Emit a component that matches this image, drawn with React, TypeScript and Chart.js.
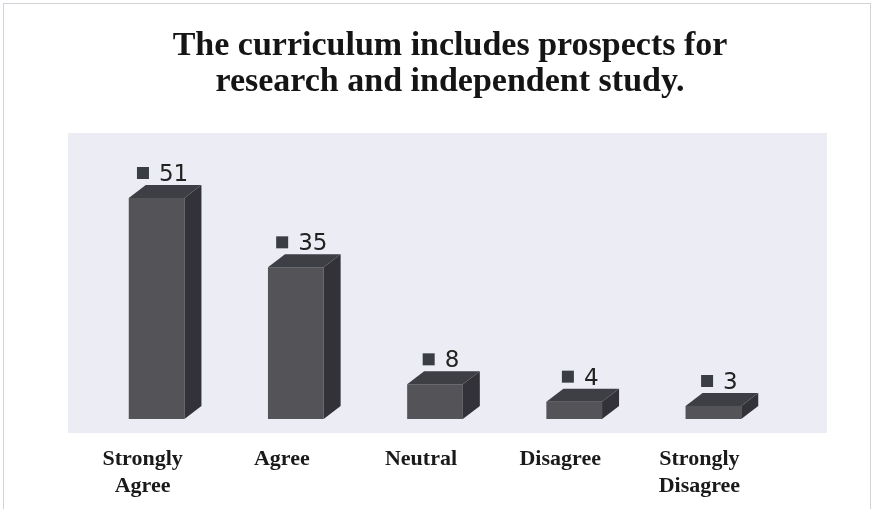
import { useEffect, useRef } from "react";
import { Chart, registerables } from "chart.js";

Chart.register(...registerables);

const TITLE_LINES = ["The curriculum includes prospects for", "research and independent study."];
const CATEGORIES: (string | string[])[] = [["Strongly", "Agree"], "Agree", "Neutral", "Disagree", ["Strongly", "Disagree"]];
const VALUES = [51, 35, 8, 4, 3];
const Y_MAX = 66;

const FRONT = "#535358";
const SIDE = "#323238";
const TOP = "#3e3e45";
const MARKER = "#3b3d45";
const PLOT_BG = "#ececf4";
const DEPTH_X = 17;
const DEPTH_Y = 13;

const box3d = {
  id: "box3d",
  beforeDraw(chart: any) {
    const { ctx, chartArea: a } = chart;
    ctx.save();
    ctx.fillStyle = "#ffffff";
    ctx.fillRect(0, 0, chart.width, chart.height);
    ctx.strokeStyle = "#d2d2d8";
    ctx.lineWidth = 1;
    ctx.strokeRect(3.5, 3.5, chart.width - 7, chart.height + 10);
    ctx.fillStyle = PLOT_BG;
    ctx.fillRect(a.left - 19, a.top, a.right - a.left + 63, a.bottom - a.top + 14);
    // title
    ctx.fillStyle = "#151515";
    ctx.font = 'bold 34px "Liberation Serif"';
    ctx.textAlign = "center";
    ctx.textBaseline = "alphabetic";
    const cx = (a.left + a.right) / 2 + 15;
    TITLE_LINES.forEach((line, i) => {
      ctx.fillText(line, cx, 55 + i * 36);
    });
    ctx.restore();
  },
  afterDatasetsDraw(chart: any) {
    const { ctx } = chart;
    const meta = chart.getDatasetMeta(0);
    ctx.save();
    meta.data.forEach((bar: any, i: number) => {
      const { x, y, base, width } = bar.getProps(["x", "y", "base", "width"], true);
      const l = x - width / 2;
      const r = x + width / 2;
      ctx.fillStyle = SIDE;
      ctx.beginPath();
      ctx.moveTo(r, y);
      ctx.lineTo(r + DEPTH_X, y - DEPTH_Y);
      ctx.lineTo(r + DEPTH_X, base - DEPTH_Y);
      ctx.lineTo(r, base);
      ctx.closePath();
      ctx.fill();
      ctx.fillStyle = TOP;
      ctx.beginPath();
      ctx.moveTo(l, y);
      ctx.lineTo(l + DEPTH_X, y - DEPTH_Y);
      ctx.lineTo(r + DEPTH_X, y - DEPTH_Y);
      ctx.lineTo(r, y);
      ctx.closePath();
      ctx.fill();

      const text = String(VALUES[i]);
      ctx.font = '23px "DejaVu Sans"';
      const tw = ctx.measureText(text).width;
      const total = 12 + 10 + tw;
      const lcx = x + 6;
      const lcy = y - DEPTH_Y - 12;
      const sx = lcx - total / 2;
      ctx.fillStyle = MARKER;
      ctx.fillRect(sx, lcy - 6, 12, 12);
      ctx.fillStyle = "#222222";
      ctx.textAlign = "left";
      ctx.textBaseline = "alphabetic";
      ctx.fillText(text, sx + 22, lcy + 8);
    });
    ctx.restore();
  },
};

export default function App() {
  const ref = useRef<HTMLCanvasElement | null>(null);
  useEffect(() => {
    document.body.style.margin = "0";
    const canvas = ref.current;
    if (!canvas) return;
    const chart = new Chart(canvas, {
      type: "bar",
      data: {
        labels: CATEGORIES,
        datasets: [
          {
            data: VALUES,
            backgroundColor: FRONT,
            borderWidth: 0,
            barPercentage: 0.5,
            categoryPercentage: 0.8,
          },
        ],
      },
      options: {
        animation: false,
        responsive: false,
        devicePixelRatio: 1,
        layout: { padding: { left: 87, right: 91, top: 133, bottom: 11 } },
        plugins: {
          legend: { display: false },
          tooltip: { enabled: false },
          title: { display: false },
        },
        scales: {
          x: {
            grid: { display: false, drawTicks: false },
            border: { display: false },
            afterFit: (scale: any) => {
              scale.height = 79;
            },
            ticks: {
              padding: 27,
              labelOffset: -14,
              color: "#1a1a1a",
              font: { family: '"Liberation Serif"', size: 22, weight: "bold", lineHeight: 1.23 },
            },
          },
          y: { display: false, min: 0, max: Y_MAX },
        },
      },
      plugins: [box3d],
    });
    return () => chart.destroy();
  }, []);
  return (
    <div style={{ width: 874, height: 509 }}>
      <canvas ref={ref} width={874} height={509} style={{ display: "block", width: 874, height: 509 }} />
    </div>
  );
}
